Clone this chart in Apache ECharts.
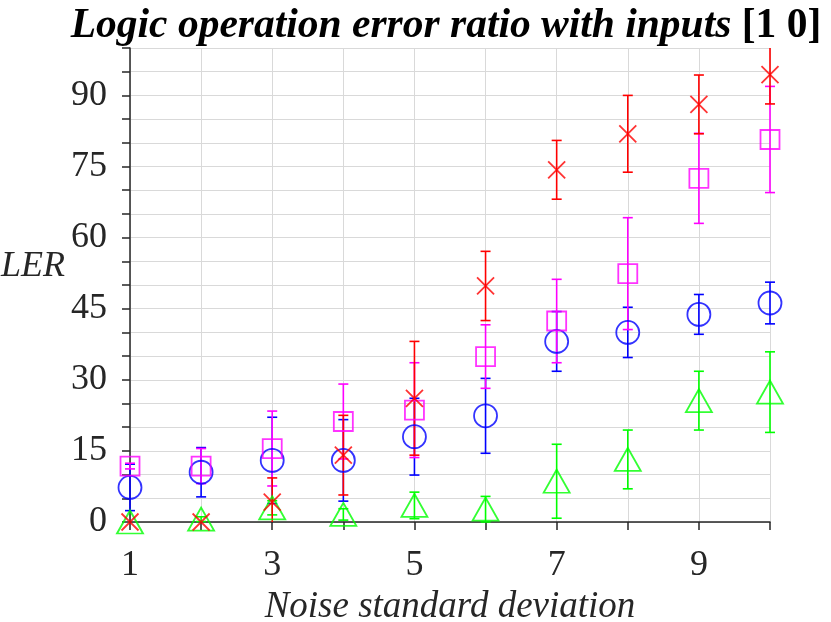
<!DOCTYPE html>
<html lang="en">
<head>
    <meta charset="UTF-8">
    <title>Logic operation error ratio</title>
    <script src="https://cdn.jsdelivr.net/npm/echarts@6/dist/echarts.min.js"></script>
    <style>
        html, body { margin: 0; padding: 0; background: #fff; }
        #main { width: 831px; height: 622px; }
    </style>
</head>
<body>
    <div id="main"></div>
    <script type="text/javascript">
        // noise standard deviation
        var noise = [1, 2, 3, 4, 5, 6, 7, 8, 9, 10];

        // LER means and error bar half-lengths
        var redVals   = [0, 0, 4.2, 14.1, 26.1, 49.8, 74.3, 81.9, 88.1, 94.4];
        var redErr    = [0, 0, 5.1, 8.4, 12.0, 7.3, 6.2, 8.1, 6.2, 6.2];
        var magVals   = [11.8, 11.8, 15.5, 21.2, 23.6, 34.9, 42.4, 52.4, 72.5, 80.7];
        var magErr    = [0.6, 3.7, 7.9, 7.9, 10.0, 6.7, 8.8, 11.8, 9.5, 11.2];
        var blueVals  = [7.3, 10.5, 13.0, 13.0, 18.0, 22.4, 38.1, 40.0, 43.8, 46.2];
        var blueErr   = [4.9, 5.2, 9.1, 8.6, 8.1, 7.9, 6.3, 5.3, 4.2, 4.4];
        var greenVals = [0, 0.6, 3.0, 1.6, 3.5, 2.7, 8.6, 13.2, 25.6, 27.4];
        var greenErr  = [0, 0.5, 1.5, 1.2, 2.8, 2.7, 7.8, 6.2, 6.2, 8.5];

        var yTicks = [0, 15, 30, 45, 60, 75, 90];
        var xTicks = [1, 3, 5, 7, 9];

        var yMin = 0, yMax = 100;
        var font = 'Liberation Serif';
        var axisColor = '#262626';

        function rows(vals, errs) {
            return noise.map(function (x, i) { return [x, vals[i], errs[i]]; });
        }

        function errorBars(color) {
            return function (params, api) {
                var x = api.value(0), y = api.value(1), e = api.value(2);
                if (!e) return;
                var hi = y + e, lo = y - e;
                var top = api.coord([x, Math.min(hi, yMax)]);
                var bot = api.coord([x, Math.max(lo, yMin)]);
                var st = { stroke: color, lineWidth: 1.6 };
                var kids = [{ type: 'line', shape: { x1: top[0], y1: top[1], x2: bot[0], y2: bot[1] }, style: st }];
                var cap = 5;
                if (hi <= yMax) kids.push({ type: 'line', shape: { x1: top[0] - cap, y1: top[1], x2: top[0] + cap, y2: top[1] }, style: st });
                if (lo >= yMin) kids.push({ type: 'line', shape: { x1: bot[0] - cap, y1: bot[1], x2: bot[0] + cap, y2: bot[1] }, style: st });
                return { type: 'group', children: kids };
            };
        }

        function errSeries(vals, errs, color) {
            return {
                type: 'custom',
                renderItem: errorBars(color),
                data: rows(vals, errs),
                encode: { x: 0, y: 1 },
                silent: true,
                z: 2
            };
        }

        function markSeries(vals, symbol, size, color) {
            return {
                type: 'scatter',
                data: noise.map(function (x, i) { return [x, vals[i]]; }),
                symbol: symbol,
                symbolSize: size,
                itemStyle: { color: 'rgba(0,0,0,0)', borderColor: color, borderWidth: 1.8 },
                silent: true,
                z: 3
            };
        }

        var myChart = echarts.init(document.getElementById('main'));
        var option = {
            animation: false,
            backgroundColor: '#fff',
            title: {
                text: '{a|Logic operation error ratio with inputs }{b|[1 0]}',
                left: 441,
                top: 0,
                textAlign: 'center',
                textStyle: {
                    rich: {
                        a: { fontFamily: font, fontSize: 41.5, fontWeight: 'bold', fontStyle: 'italic', color: '#000' },
                        b: { fontFamily: font, fontSize: 41.5, fontWeight: 'bold', color: '#000' }
                    }
                }
            },
            grid: { left: 130, right: 61, top: 48, bottom: 100, outerBoundsMode: 'none', containLabel: false },
            xAxis: {
                type: 'value',
                min: 1,
                max: 10,
                interval: 1,
                name: 'Noise standard deviation',
                nameLocation: 'middle',
                nameGap: 66,
                nameTextStyle: { fontFamily: font, fontSize: 37, fontStyle: 'italic', color: axisColor },
                axisLine: { lineStyle: { color: axisColor, width: 1.5 } },
                axisTick: { length: 8, lineStyle: { color: axisColor, width: 1.5 } },
                axisLabel: {
                    margin: 26,
                    fontFamily: font, fontSize: 36, color: axisColor,
                    formatter: function (v) { return xTicks.indexOf(v) >= 0 ? String(v) : ''; }
                },
                splitLine: { show: true, lineStyle: { color: '#d9d9d9', width: 1 } }
            },
            yAxis: {
                type: 'value',
                min: yMin,
                max: yMax,
                interval: 5,
                name: 'LER',
                nameLocation: 'middle',
                nameRotate: 0,
                nameGap: 56,
                nameTextStyle: { fontFamily: font, fontSize: 36, fontStyle: 'italic', color: axisColor, verticalAlign: 'bottom' },
                axisLine: { show: true, lineStyle: { color: axisColor, width: 1.5 } },
                axisTick: { show: true, length: 8, lineStyle: { color: axisColor, width: 1.5 } },
                axisLabel: {
                    margin: 23,
                    fontFamily: font, fontSize: 36, color: axisColor,
                    formatter: function (v) { return yTicks.indexOf(v) >= 0 ? String(v) : ''; }
                },
                splitLine: { show: true, lineStyle: { color: '#d9d9d9', width: 1 } }
            },
            series: [
                errSeries(blueVals, blueErr, '#0000ff'),
                errSeries(magVals, magErr, '#ff00ff'),
                errSeries(greenVals, greenErr, '#00ff00'),
                errSeries(redVals, redErr, '#ff0000'),
                markSeries(blueVals, 'circle', 23, '#0000ff'),
                markSeries(magVals, 'rect', 19, '#ff00ff'),
                markSeries(greenVals, 'triangle', [26, 23], '#00ff00'),
                markSeries(redVals, 'path://M0,0L10,10M10,0L0,10', 17, '#ff0000')
            ]
        };
        myChart.setOption(option);
    </script>
</body>
</html>
